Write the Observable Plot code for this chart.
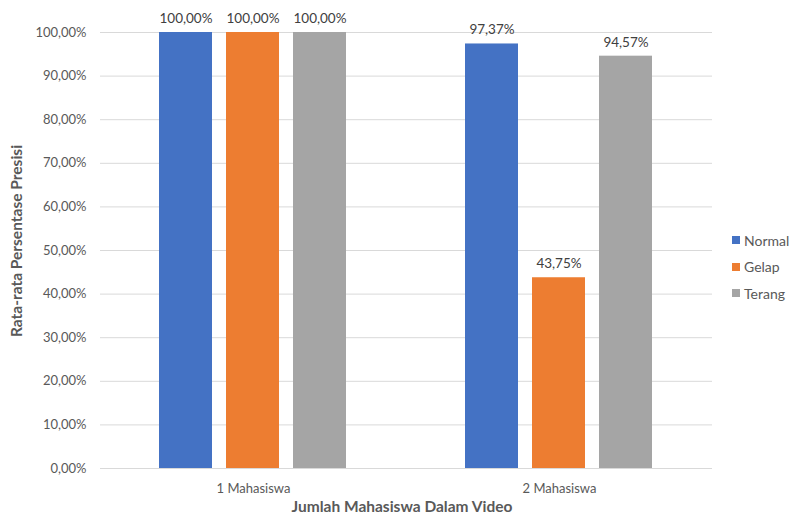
<!DOCTYPE html>
<html>
<head>
<meta charset="utf-8">
<script src="https://cdn.jsdelivr.net/npm/d3@7"></script>
<script src="https://cdn.jsdelivr.net/npm/@observablehq/plot@0.6"></script>
<style>
  html, body { margin: 0; padding: 0; background: #fff; }
  #chart { position: relative; width: 790px; height: 519px; font-family: Lato, "Open Sans", sans-serif; }
  #legend { position: absolute; left: 732px; top: 227px; font-size: 14px; color: #595959; }
  #legend div { display: flex; align-items: center; height: 26.5px; }
  #legend span.sw { width: 8px; height: 8px; margin-right: 4px; display: inline-block; }
</style>
</head>
<body>
<div id="chart"></div>
<script>
const groups = ["1 Mahasiswa", "2 Mahasiswa"];
const series = ["Normal", "Gelap", "Terang"];
const normalValues = [100, 97.37];
const gelapValues = [100, 43.75];
const terangValues = [100, 94.57];
const yTicks = [0, 10, 20, 30, 40, 50, 60, 70, 80, 90, 100];
const colors = ["#4472c4", "#ed7d31", "#a5a5a5"];
const xTitle = "Jumlah Mahasiswa Dalam Video";
const yTitle = "Rata-rata Persentase Presisi";

const seriesValues = [normalValues, gelapValues, terangValues];
const data = [];
groups.forEach((g, gi) => series.forEach((s, si) => data.push({group: g, series: s, value: seriesValues[si][gi]})));

const fmt = v => d3.format(".2f")(v).replace(".", ",") + "%";

const plot = Plot.plot({
  width: 790,
  height: 519,
  marginLeft: 99,
  marginRight: 78,
  marginTop: 32,
  marginBottom: 51,
  style: {fontFamily: "Lato, 'Open Sans', sans-serif", fontSize: "13px", color: "#595959", background: "#fff"},
  fx: {domain: groups, padding: 0, label: null},
  x: {domain: series, paddingInner: 0.206, paddingOuter: 0.86, axis: null},
  y: {domain: [0, 100], label: null},
  color: {domain: series, range: colors},
  marks: [
    Plot.gridY(yTicks, {stroke: "#d9d9d9", strokeOpacity: 1, strokeWidth: 1}),
    Plot.barY(data, {fx: "group", x: "series", y: "value", fill: "series"}),
    Plot.text(data, {fx: "group", x: "series", y: "value", text: d => fmt(d.value), dy: -14, fill: "#404040", fontSize: 13.5}),
    Plot.axisY(yTicks, {tickSize: 0, tickPadding: 14, tickFormat: fmt, label: null, fill: "#595959"}),
    Plot.axisFx({anchor: "bottom", tickSize: 0, tickPadding: 15, label: null, fill: "#595959"})
  ]
});

const container = document.getElementById("chart");
container.appendChild(plot);

const svg = d3.select(plot);
svg.append("text")
  .attr("x", 402).attr("y", 512)
  .attr("text-anchor", "middle")
  .attr("font-weight", "bold").attr("font-size", 15.5)
  .attr("fill", "#595959")
  .text(xTitle);
svg.append("text")
  .attr("transform", "translate(22,241) rotate(-90)")
  .attr("text-anchor", "middle")
  .attr("font-weight", "bold").attr("font-size", 15.5)
  .attr("fill", "#595959")
  .text(yTitle);

const legend = document.createElement("div");
legend.id = "legend";
series.forEach((s, i) => {
  const row = document.createElement("div");
  const sw = document.createElement("span");
  sw.className = "sw";
  sw.style.background = colors[i];
  row.appendChild(sw);
  row.appendChild(document.createTextNode(s));
  legend.appendChild(row);
});
container.appendChild(legend);
</script>
</body>
</html>
